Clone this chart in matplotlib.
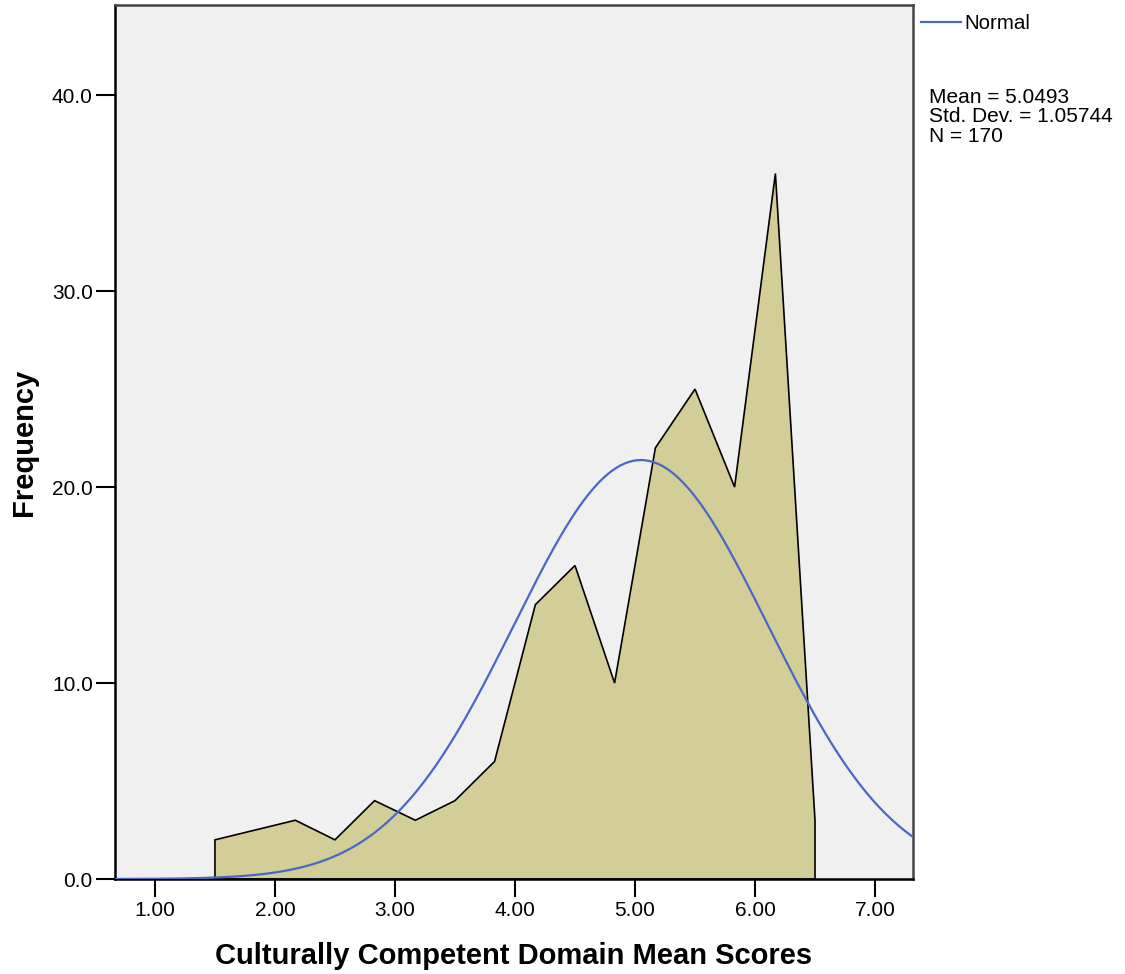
import matplotlib.pyplot as plt
import numpy as np

# frequency polygon (bin midpoints, counts)
bin_mid = [1.50, 2.17, 2.50, 2.83, 3.17, 3.50, 3.83, 4.17, 4.50, 4.83, 5.17, 5.50, 5.83, 6.17, 6.50]
counts = [2, 3, 2, 4, 3, 4, 6, 14, 16, 10, 22, 25, 20, 36, 3]

mean = 5.0493
std = 1.05744
n = 170
bin_width = 1 / 3

plt.rcParams['font.family'] = ['Liberation Sans', 'DejaVu Sans']

fig = plt.figure(figsize=(11.25, 9.74), dpi=100)
ax = fig.add_axes([0.1022, 0.0975, 0.7094, 0.8974])
ax.set_facecolor('#f0f0f0')

# close polygon down to zero at both ends
xs = [bin_mid[0]] + bin_mid + [bin_mid[-1]]
ys = [0] + counts + [0]
ax.fill(xs, ys, facecolor='#d3ce98', edgecolor='black', linewidth=1.2, zorder=2)

# normal curve from the stated statistics
xc = np.linspace(0.6, 7.4, 400)
yc = n * bin_width * np.exp(-0.5 * ((xc - mean) / std) ** 2) / (std * np.sqrt(2 * np.pi))
line, = ax.plot(xc, yc, color='#4a67c4', linewidth=1.6, zorder=3, label='Normal')

ax.set_xlim(0.667, 7.317)
ax.set_ylim(0, 44.6)
ax.set_xticks([1, 2, 3, 4, 5, 6, 7])
ax.set_xticklabels(['1.00', '2.00', '3.00', '4.00', '5.00', '6.00', '7.00'])
ax.set_yticks([0, 10, 20, 30, 40])
ax.set_yticklabels(['0.0', '10.0', '20.0', '30.0', '40.0'])
ax.tick_params(axis='both', length=13, width=1.5, labelsize=15, colors='black', pad=3)
ax.tick_params(axis='y', length=14, pad=2)

for side in ['left', 'bottom']:
    ax.spines[side].set_linewidth(1.8)
    ax.spines[side].set_color('black')
for side in ['top', 'right']:
    ax.spines[side].set_linewidth(1.8)
    ax.spines[side].set_color('#444444')

ax.set_xlabel('Culturally Competent Domain Mean Scores', fontsize=21, fontweight='bold', labelpad=16)
ax.set_ylabel('Frequency', fontsize=21, fontweight='bold', labelpad=10)

fig.legend(handles=[line], loc='upper left', bbox_to_anchor=(0.811, 0.994), frameon=False,
           fontsize=14.8, handlelength=1.95, handletextpad=0.2, borderaxespad=0)

fig.text(0.826, 0.910, 'Mean = 5.0493\nStd. Dev. = 1.05744\nN = 170', fontsize=15,
         va='top', ha='left', linespacing=1.05)

fig.savefig('out.png', dpi=100)
